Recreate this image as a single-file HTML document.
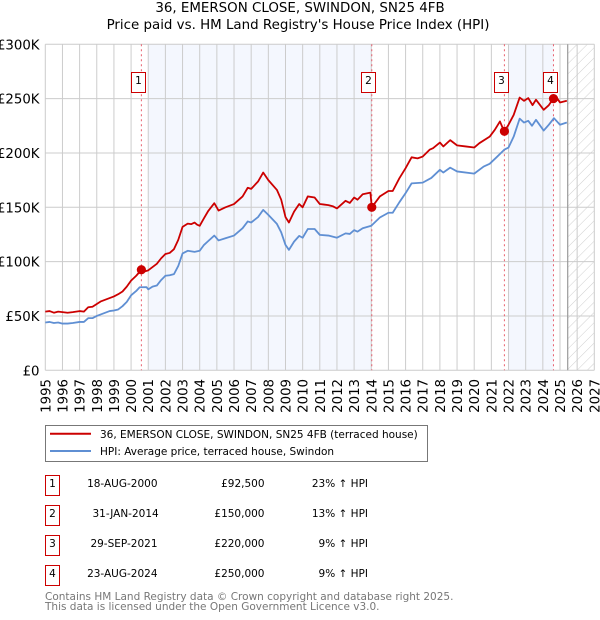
<!DOCTYPE html>
<html lang="en">
<head>
<meta charset="utf-8">
<title>36, Emerson Close, Swindon price chart</title>
<style>
html,body{margin:0;padding:0;background:#fff;}
body{width:600px;height:620px;overflow:hidden;}
svg{display:block;font-family:"DejaVu Sans","Liberation Sans",sans-serif;}
</style>
</head>
<body>
<svg id="chart" width="600" height="620" viewBox="0 0 600 620" xmlns="http://www.w3.org/2000/svg">
  <defs>
    <pattern id="hatch" patternUnits="userSpaceOnUse" width="7.2" height="7.2" patternTransform="rotate(45)">
      <line x1="0" y1="0" x2="0" y2="7.2" stroke="#cfcfcf" stroke-width="1"></line>
    </pattern>
  </defs>
  <text x="300" y="12" font-size="13.4" text-anchor="middle" fill="#000">36, EMERSON CLOSE, SWINDON, SN25 4FB</text>
  <text x="298" y="29" font-size="13.4" text-anchor="middle" fill="#000">Price paid vs. HM Land Registry's House Price Index (HPI)</text>
  <g id="bands"></g>
  <g id="grid"></g>
  <g id="vlines"></g>
  <g id="series"></g>
  <g id="markers"></g>
  <g id="xlabels"></g>
  <g id="ylabels"></g>

  <g>
    <rect x="45.5" y="425.5" width="382" height="36" fill="#fff" stroke="#777" stroke-width="1"></rect>
    <line x1="50" y1="433.8" x2="91" y2="433.8" stroke="#cc0000" stroke-width="2"></line>
    <text x="100" y="438" font-size="10.5" fill="#000">36, EMERSON CLOSE, SWINDON, SN25 4FB (terraced house)</text>
    <line x1="50" y1="451" x2="91" y2="451" stroke="#5f8fd3" stroke-width="2"></line>
    <text x="100" y="455" font-size="10.5" fill="#000">HPI: Average price, terraced house, Swindon</text>
  </g>

  <g font-size="10.5" fill="#000">
    <g>
      <rect x="45.5" y="475.5" width="14" height="20" fill="#fff" stroke="#cc0000" stroke-width="1"></rect>
      <text x="52.5" y="487" text-anchor="middle">1</text>
      <text x="157.5" y="487" text-anchor="end">18-AUG-2000</text>
      <text x="264.5" y="487" text-anchor="end">£92,500</text>
      <text x="368" y="487" text-anchor="end">23% ↑ HPI</text>
    </g>
    <g>
      <rect x="45.5" y="505.5" width="14" height="20" fill="#fff" stroke="#cc0000" stroke-width="1"></rect>
      <text x="52.5" y="517" text-anchor="middle">2</text>
      <text x="158.7" y="517" text-anchor="end">31-JAN-2014</text>
      <text x="264.5" y="517" text-anchor="end">£150,000</text>
      <text x="368" y="517" text-anchor="end">13% ↑ HPI</text>
    </g>
    <g>
      <rect x="45.5" y="535.5" width="14" height="20" fill="#fff" stroke="#cc0000" stroke-width="1"></rect>
      <text x="52.5" y="547" text-anchor="middle">3</text>
      <text x="157.5" y="547" text-anchor="end">29-SEP-2021</text>
      <text x="264.5" y="547" text-anchor="end">£220,000</text>
      <text x="368" y="547" text-anchor="end">9% ↑ HPI</text>
    </g>
    <g>
      <rect x="45.5" y="565.5" width="14" height="20" fill="#fff" stroke="#cc0000" stroke-width="1"></rect>
      <text x="52.5" y="577" text-anchor="middle">4</text>
      <text x="157.5" y="577" text-anchor="end">23-AUG-2024</text>
      <text x="264.5" y="577" text-anchor="end">£250,000</text>
      <text x="368" y="577" text-anchor="end">9% ↑ HPI</text>
    </g>
  </g>

  <text x="45" y="600" font-size="10.5" fill="#777">Contains HM Land Registry data © Crown copyright and database right 2025.</text>
  <text x="45" y="610" font-size="10.5" fill="#777">This data is licensed under the Open Government Licence v3.0.</text>
</svg>

<script>
// Chart data (values in £ thousands, dates in decimal years)
const xTickYears = [1995,1996,1997,1998,1999,2000,2001,2002,2003,2004,2005,2006,2007,2008,2009,2010,2011,2012,2013,2014,2015,2016,2017,2018,2019,2020,2021,2022,2023,2024,2025,2026,2027];
const yTickValues = [0,50,100,150,200,250,300];
const yTickLabels = ['£0','£50K','£100K','£150K','£200K','£250K','£300K'];

const priceDates = [1995,1995.25,1995.5,1995.75,1996,1996.3,1996.6,1997,1997.25,1997.5,1997.75,1998,1998.25,1998.5,1998.75,1999,1999.25,1999.5,1999.75,2000,2000.3,2000.63,2000.8,2001,2001.25,2001.5,2001.75,2002,2002.25,2002.5,2002.75,2003,2003.3,2003.5,2003.7,2003.85,2004,2004.25,2004.5,2004.85,2005.1,2005.5,2006,2006.5,2006.8,2007,2007.4,2007.7,2008,2008.5,2008.75,2009,2009.2,2009.5,2009.8,2010,2010.3,2010.7,2011,2011.25,2011.5,2011.75,2012,2012.5,2012.75,2013,2013.2,2013.5,2013.95,2014.03,2014.5,2015,2015.25,2015.64,2016,2016.35,2016.7,2017,2017.4,2017.6,2018,2018.2,2018.6,2019,2019.5,2020,2020.3,2020.9,2021.2,2021.5,2021.75,2022,2022.3,2022.65,2022.9,2023.15,2023.4,2023.6,2024.05,2024.35,2024.63,2024.8,2025,2025.4];
const priceValues = [54,54.5,53,54,53.5,53,53.5,54.5,54,58,58.5,61,63.5,65,66.5,68,70,72.5,77,82.5,87,93,91,92,95,98,103,107,108,111.5,120,132,135,134.5,136,134,133,140,146.7,153.8,147,150,153,160,168,167,173.7,182,175,166,157,141,136,146,153,150,160,159,153,152.5,152,151,149,156,154,159,157,162,163.5,150,160,165,165,176.8,186,196,195,196.7,203,204.4,209.6,206,211.8,207,206,205,209,215,221.3,229,219.7,226,235,251,248,250.5,244,249,239.7,244,250.5,251,246.5,248];

const hpiDates = [1995,1995.25,1995.5,1995.75,1996,1996.3,1996.6,1997,1997.25,1997.5,1997.75,1998,1998.25,1998.5,1998.75,1999,1999.25,1999.5,1999.75,2000,2000.3,2000.5,2000.9,2001,2001.25,2001.5,2001.75,2002,2002.25,2002.5,2002.75,2003,2003.3,2003.7,2004,2004.25,2004.5,2004.85,2005.1,2005.5,2006,2006.5,2006.8,2007,2007.4,2007.7,2008,2008.5,2008.75,2009,2009.2,2009.5,2009.8,2010,2010.3,2010.7,2011,2011.5,2012,2012.5,2012.75,2013,2013.2,2013.5,2014,2014.5,2015,2015.25,2015.64,2016,2016.35,2017,2017.5,2018,2018.2,2018.6,2019,2020,2020.55,2020.9,2021.3,2021.75,2022,2022.3,2022.65,2022.9,2023.15,2023.37,2023.6,2024.05,2024.35,2024.65,2025,2025.4];
const hpiValues = [44,44.5,43.5,44,43,43,43.5,44.5,44.5,48,48,50,51.5,53,54.5,55,56,59,63,69,73,76.4,76.5,74.5,77,78,83,87,87.5,88.5,96,107.5,110,109,110,115.4,119,124,119.5,121.5,124,130.8,137,136,141,147.6,143,134.7,127,115.4,110.8,118.4,123.7,122,130,130,124.6,124,122,126,125.5,129,127.6,130.7,133,140.6,145,145,154.7,163,172,172.7,177,184.5,182,186.5,183,181,187.5,190,196,203,205,215,231.6,228,229.6,225,230.5,220.6,226,232,226,228];

const saleDates = [2000.6,2014.03,2021.76,2024.62];
const salePrices = [92.5,150,220,250];
const saleNumbers = ['1','2','3','4'];

const plotLeft = 45.3, plotRight = 594.3, plotTop = 44.3, plotBottom = 370.3;
const xMin = 1995, xMax = 2027, yMin = 0, yMax = 300;
const forecastStart = 2025.45;

function xScale(year){ return plotLeft + (year - xMin) / (xMax - xMin) * (plotRight - plotLeft); }
function yScale(value){ return plotBottom - (value - yMin) / (yMax - yMin) * (plotBottom - plotTop); }

const NS = 'http://www.w3.org/2000/svg';
function make(tag, parent, attrs, text){
  const el = document.createElementNS(NS, tag);
  for (const k in attrs) el.setAttribute(k, attrs[k]);
  if (text !== undefined) el.textContent = text;
  parent.appendChild(el);
  return el;
}

const bands = document.getElementById('bands');
const grid = document.getElementById('grid');
const vlines = document.getElementById('vlines');
const series = document.getElementById('series');
const markers = document.getElementById('markers');
const xlabels = document.getElementById('xlabels');
const ylabels = document.getElementById('ylabels');

// Shaded bands between sales 1-2 and 3-4
const bandOne = make('rect', bands, {x:xScale(2001), y:plotTop, width:xScale(saleDates[1])-xScale(2001), height:plotBottom-plotTop, fill:'#f4f7fe'});


const bandTwo = make('rect', bands, {x:xScale(2021.97), y:plotTop, width:xScale(saleDates[3])-xScale(2021.97), height:plotBottom-plotTop, fill:'#f4f7fe'});



// Forecast hatch
const hatchArea = make('rect', bands, {x:xScale(forecastStart), y:plotTop, width:plotRight-xScale(forecastStart), height:plotBottom-plotTop, fill:'url(#hatch)'});



// Grid and tick labels
xTickYears.forEach(function(year){
  const line = make('line', grid, {x1:xScale(year), x2:xScale(year), y1:plotTop, y2:plotBottom, stroke:'#cccccc', 'stroke-width':1});
  
  
  const px = xScale(year) + 5;
  const label = make('text', xlabels, {x:px, y:379, transform:'rotate(-90 ' + px + ' 379)', 'text-anchor':'end', 'font-size':13.3, fill:'#000'}, String(year));
  
  
});
yTickValues.forEach(function(value, i){
  const line = make('line', grid, {x1:plotLeft, x2:plotRight, y1:yScale(value), y2:yScale(value), stroke:'#cccccc', 'stroke-width':1});
  
  
  const label = make('text', ylabels, {x:39.5, y:yScale(value)+5, 'text-anchor':'end', 'font-size':13.3, fill:'#000'}, yTickLabels[i]);
  
  
});
const endLine = make('line', grid, {x1:xScale(forecastStart), x2:xScale(forecastStart), y1:plotTop, y2:plotBottom, stroke:'#999999', 'stroke-width':1.2});



// Sale marker verticals
saleDates.forEach(function(date){
  const line = make('line', vlines, {x1:xScale(date), x2:xScale(date), y1:plotTop, y2:plotBottom, stroke:'#e8606e', 'stroke-width':1, 'stroke-dasharray':'2 3'});
  
  
});

// Series lines
function pathFrom(dates, values){
  return dates.map(function(d, i){ return (i ? 'L' : 'M') + xScale(d).toFixed(2) + ' ' + yScale(values[i]).toFixed(2); }).join(' ');
}
const hpiLine = make('path', series, {d:pathFrom(hpiDates, hpiValues), fill:'none', stroke:'#5f8fd3', 'stroke-width':1.8, 'stroke-linejoin':'round'});


const priceLine = make('path', series, {d:pathFrom(priceDates, priceValues), fill:'none', stroke:'#cc0000', 'stroke-width':1.8, 'stroke-linejoin':'round'});



// Sale points and numbered badges
saleDates.forEach(function(date, i){
  const dot = make('circle', markers, {cx:xScale(date), cy:yScale(salePrices[i]), r:4.6, fill:'#cc0000'});
  
  
  const bx = Math.round(xScale(date) - 10.6) + 0.5;
  const box = make('rect', markers, {x:bx, y:72.5, width:14, height:20, fill:'#fff', stroke:'#cc0000', 'stroke-width':1});
  
  
  const num = make('text', markers, {x:bx+7, y:84, 'text-anchor':'middle', 'font-size':10.5, fill:'#000'}, saleNumbers[i]);
  
  
});
</script>
</body>
</html>
